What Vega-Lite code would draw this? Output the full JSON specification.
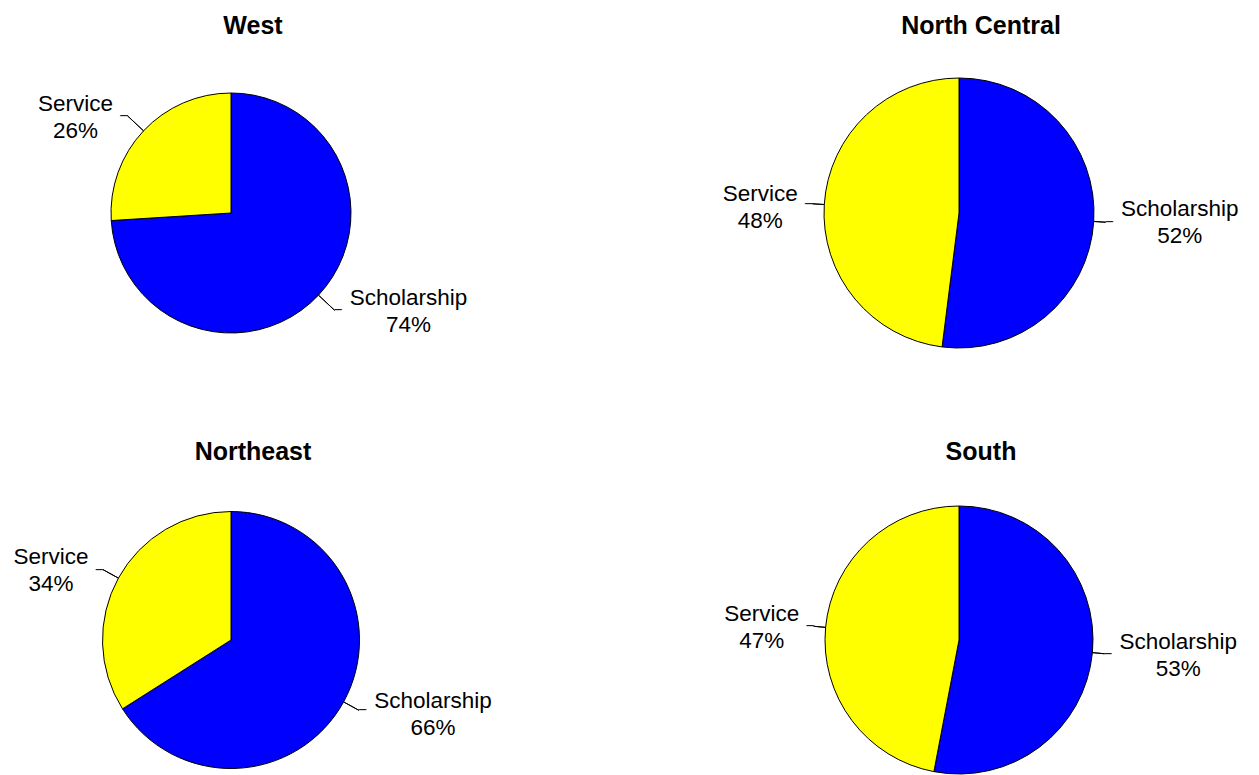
{
  "$schema": "https://vega.github.io/schema/vega-lite/v6.json",
  "padding": {"left": 0, "top": 14, "right": 0, "bottom": 0},
  "config": {
    "view": {"stroke": null},
    "font": "Liberation Sans",
    "title": {"fontSize": 25, "font": "Liberation Sans", "fontWeight": "bold", "color": "black", "baseline": "alphabetic", "offset": 39, "anchor": "middle", "frame": "group"}
  },
  "data": {"values": [
    {"region": "West", "type": "Scholarship", "order": 1, "pct": 74, "label": "Scholarship\n74%"},
    {"region": "West", "type": "Service", "order": 2, "pct": 26, "label": "Service\n26%"},
    {"region": "North Central", "type": "Scholarship", "order": 1, "pct": 52, "label": "Scholarship\n52%"},
    {"region": "North Central", "type": "Service", "order": 2, "pct": 48, "label": "Service\n48%"},
    {"region": "Northeast", "type": "Scholarship", "order": 1, "pct": 66, "label": "Scholarship\n66%"},
    {"region": "Northeast", "type": "Service", "order": 2, "pct": 34, "label": "Service\n34%"},
    {"region": "South", "type": "Scholarship", "order": 1, "pct": 53, "label": "Scholarship\n53%"},
    {"region": "South", "type": "Service", "order": 2, "pct": 47, "label": "Service\n47%"}
  ]},
  "columns": 2,
  "spacing": {"row": 159, "column": 197},
  "bounds": "flush",
  "align": "each",
  "concat": [
    {
      "width": 462, "height": 268,
      "title": {"text": "West", "dx": 22, "dy": -1},
      "transform": [
        {"filter": "datum.region == 'West'"},
        {"stack": "pct", "groupby": [], "sort": [{"field": "order", "order": "ascending"}], "as": ["t0", "t1"]},
        {"calculate": "(datum.t0 + datum.t1) / 2", "as": "tm"}
      ],
      "layer": [
        {"mark": {"type": "arc", "outerRadius": 120, "stroke": "black", "strokeWidth": 1},
         "encoding": {
           "theta": {"field": "t0", "type": "quantitative", "stack": null, "scale": {"domain": [0, 100]}},
           "theta2": {"field": "t1"},
           "color": {"field": "type", "type": "nominal", "scale": {"domain": ["Scholarship", "Service"], "range": ["#0000ff", "#ffff00"]}, "legend": null}
         }},
        {"mark": {"type": "arc", "innerRadius": 120, "outerRadius": 142, "filled": false, "stroke": "black", "strokeWidth": 1},
         "encoding": {"theta": {"field": "tm", "type": "quantitative", "stack": null}, "theta2": {"field": "tm"}}},
        {"transform": [{"filter": "datum.type == 'Service'"}],
         "layer": [
           {"mark": {"type": "text", "radius": 142, "align": "right", "baseline": "middle", "text": "─", "font": "DejaVu Sans Mono", "fontSize": 12, "color": "black"},
            "encoding": {"theta": {"field": "tm", "type": "quantitative", "stack": null}}},
           {"mark": {"type": "text", "radius": 142, "align": "center", "baseline": "middle", "dx": -52, "dy": -12, "fontSize": 22.5, "lineBreak": "\n", "lineHeight": 27, "color": "black"},
            "encoding": {"theta": {"field": "tm", "type": "quantitative", "stack": null}, "text": {"field": "label"}}}
         ]},
        {"transform": [{"filter": "datum.type == 'Scholarship'"}],
         "layer": [
           {"mark": {"type": "text", "radius": 142, "align": "left", "baseline": "middle", "text": "─", "font": "DejaVu Sans Mono", "fontSize": 12, "color": "black"},
            "encoding": {"theta": {"field": "tm", "type": "quantitative", "stack": null}}},
           {"mark": {"type": "text", "radius": 142, "align": "center", "baseline": "middle", "dx": 74, "dy": -12, "fontSize": 22.5, "lineBreak": "\n", "lineHeight": 27, "color": "black"},
            "encoding": {"theta": {"field": "tm", "type": "quantitative", "stack": null}, "text": {"field": "label"}}}
         ]}
      ]
    },
    {
      "width": 600, "height": 268,
      "title": {"text": "North Central", "dx": 22, "dy": 2},
      "transform": [
        {"filter": "datum.region == 'North Central'"},
        {"stack": "pct", "groupby": [], "sort": [{"field": "order", "order": "ascending"}], "as": ["t0", "t1"]},
        {"calculate": "(datum.t0 + datum.t1) / 2", "as": "tm"}
      ],
      "layer": [
        {"mark": {"type": "arc", "outerRadius": 135, "stroke": "black", "strokeWidth": 1},
         "encoding": {
           "theta": {"field": "t0", "type": "quantitative", "stack": null, "scale": {"domain": [0, 100]}},
           "theta2": {"field": "t1"},
           "color": {"field": "type", "type": "nominal", "scale": {"domain": ["Scholarship", "Service"], "range": ["#0000ff", "#ffff00"]}, "legend": null}
         }},
        {"mark": {"type": "arc", "innerRadius": 135, "outerRadius": 147, "filled": false, "stroke": "black", "strokeWidth": 1},
         "encoding": {"theta": {"field": "tm", "type": "quantitative", "stack": null}, "theta2": {"field": "tm"}}},
        {"transform": [{"filter": "datum.type == 'Service'"}],
         "layer": [
           {"mark": {"type": "text", "radius": 147, "align": "right", "baseline": "middle", "text": "─", "font": "DejaVu Sans Mono", "fontSize": 12, "color": "black"},
            "encoding": {"theta": {"field": "tm", "type": "quantitative", "stack": null}}},
           {"mark": {"type": "text", "radius": 147, "align": "center", "baseline": "middle", "dx": -52, "dy": -10, "fontSize": 22.5, "lineBreak": "\n", "lineHeight": 27, "color": "black"},
            "encoding": {"theta": {"field": "tm", "type": "quantitative", "stack": null}, "text": {"field": "label"}}}
         ]},
        {"transform": [{"filter": "datum.type == 'Scholarship'"}],
         "layer": [
           {"mark": {"type": "text", "radius": 147, "align": "left", "baseline": "middle", "text": "─", "font": "DejaVu Sans Mono", "fontSize": 12, "color": "black"},
            "encoding": {"theta": {"field": "tm", "type": "quantitative", "stack": null}}},
           {"mark": {"type": "text", "radius": 147, "align": "center", "baseline": "middle", "dx": 74, "dy": -13, "fontSize": 22.5, "lineBreak": "\n", "lineHeight": 27, "color": "black"},
            "encoding": {"theta": {"field": "tm", "type": "quantitative", "stack": null}, "text": {"field": "label"}}}
         ]}
      ]
    },
    {
      "width": 462, "height": 268,
      "title": {"text": "Northeast", "dx": 22, "dy": -2},
      "transform": [
        {"filter": "datum.region == 'Northeast'"},
        {"stack": "pct", "groupby": [], "sort": [{"field": "order", "order": "ascending"}], "as": ["t0", "t1"]},
        {"calculate": "(datum.t0 + datum.t1) / 2", "as": "tm"}
      ],
      "layer": [
        {"mark": {"type": "arc", "outerRadius": 128.5, "stroke": "black", "strokeWidth": 1},
         "encoding": {
           "theta": {"field": "t0", "type": "quantitative", "stack": null, "scale": {"domain": [0, 100]}},
           "theta2": {"field": "t1"},
           "color": {"field": "type", "type": "nominal", "scale": {"domain": ["Scholarship", "Service"], "range": ["#0000ff", "#ffff00"]}, "legend": null}
         }},
        {"mark": {"type": "arc", "innerRadius": 128.5, "outerRadius": 146, "filled": false, "stroke": "black", "strokeWidth": 1},
         "encoding": {"theta": {"field": "tm", "type": "quantitative", "stack": null}, "theta2": {"field": "tm"}}},
        {"transform": [{"filter": "datum.type == 'Service'"}],
         "layer": [
           {"mark": {"type": "text", "radius": 146, "align": "right", "baseline": "middle", "text": "─", "font": "DejaVu Sans Mono", "fontSize": 12, "color": "black"},
            "encoding": {"theta": {"field": "tm", "type": "quantitative", "stack": null}}},
           {"mark": {"type": "text", "radius": 146, "align": "center", "baseline": "middle", "dx": -52, "dy": -12.5, "fontSize": 22.5, "lineBreak": "\n", "lineHeight": 27, "color": "black"},
            "encoding": {"theta": {"field": "tm", "type": "quantitative", "stack": null}, "text": {"field": "label"}}}
         ]},
        {"transform": [{"filter": "datum.type == 'Scholarship'"}],
         "layer": [
           {"mark": {"type": "text", "radius": 146, "align": "left", "baseline": "middle", "text": "─", "font": "DejaVu Sans Mono", "fontSize": 12, "color": "black"},
            "encoding": {"theta": {"field": "tm", "type": "quantitative", "stack": null}}},
           {"mark": {"type": "text", "radius": 146, "align": "center", "baseline": "middle", "dx": 74, "dy": -9, "fontSize": 22.5, "lineBreak": "\n", "lineHeight": 27, "color": "black"},
            "encoding": {"theta": {"field": "tm", "type": "quantitative", "stack": null}, "text": {"field": "label"}}}
         ]}
      ]
    },
    {
      "width": 600, "height": 268,
      "title": {"text": "South", "dx": 22},
      "transform": [
        {"filter": "datum.region == 'South'"},
        {"stack": "pct", "groupby": [], "sort": [{"field": "order", "order": "ascending"}], "as": ["t0", "t1"]},
        {"calculate": "(datum.t0 + datum.t1) / 2", "as": "tm"}
      ],
      "layer": [
        {"mark": {"type": "arc", "outerRadius": 134, "stroke": "black", "strokeWidth": 1},
         "encoding": {
           "theta": {"field": "t0", "type": "quantitative", "stack": null, "scale": {"domain": [0, 100]}},
           "theta2": {"field": "t1"},
           "color": {"field": "type", "type": "nominal", "scale": {"domain": ["Scholarship", "Service"], "range": ["#0000ff", "#ffff00"]}, "legend": null}
         }},
        {"mark": {"type": "arc", "innerRadius": 134, "outerRadius": 146, "filled": false, "stroke": "black", "strokeWidth": 1},
         "encoding": {"theta": {"field": "tm", "type": "quantitative", "stack": null}, "theta2": {"field": "tm"}}},
        {"transform": [{"filter": "datum.type == 'Service'"}],
         "layer": [
           {"mark": {"type": "text", "radius": 146, "align": "right", "baseline": "middle", "text": "─", "font": "DejaVu Sans Mono", "fontSize": 12, "color": "black"},
            "encoding": {"theta": {"field": "tm", "type": "quantitative", "stack": null}}},
           {"mark": {"type": "text", "radius": 146, "align": "center", "baseline": "middle", "dx": -52, "dy": -12, "fontSize": 22.5, "lineBreak": "\n", "lineHeight": 27, "color": "black"},
            "encoding": {"theta": {"field": "tm", "type": "quantitative", "stack": null}, "text": {"field": "label"}}}
         ]},
        {"transform": [{"filter": "datum.type == 'Scholarship'"}],
         "layer": [
           {"mark": {"type": "text", "radius": 146, "align": "left", "baseline": "middle", "text": "─", "font": "DejaVu Sans Mono", "fontSize": 12, "color": "black"},
            "encoding": {"theta": {"field": "tm", "type": "quantitative", "stack": null}}},
           {"mark": {"type": "text", "radius": 146, "align": "center", "baseline": "middle", "dx": 74, "dy": -11.5, "fontSize": 22.5, "lineBreak": "\n", "lineHeight": 27, "color": "black"},
            "encoding": {"theta": {"field": "tm", "type": "quantitative", "stack": null}, "text": {"field": "label"}}}
         ]}
      ]
    }
  ]
}
